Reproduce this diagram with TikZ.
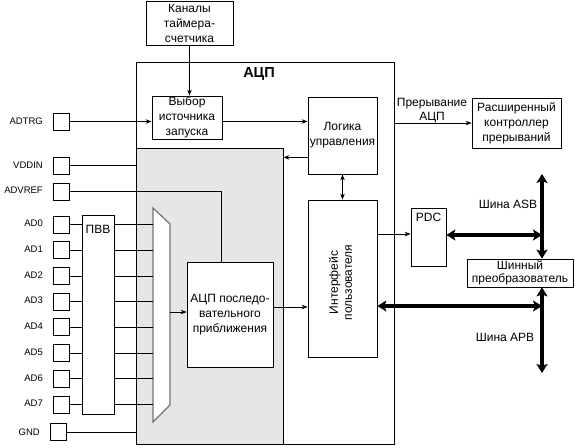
\documentclass[tikz,border=0pt]{standalone}
\usepackage{fontspec}
\setmainfont{Liberation Sans}
\usetikzlibrary{arrows.meta,calc}
\definecolor{panelgray}{RGB}{230,230,230}
\tikzset{
  box/.style={draw,line width=0.75pt,fill=white,inner sep=0pt,align=center,font=\fontsize{12}{15}\selectfont},
  pad/.style={draw,line width=0.75pt,fill=white,minimum width=16pt,minimum height=17pt,inner sep=0pt},
  pin/.style={anchor=east,inner sep=0pt,font=\fontsize{9.5}{10}\selectfont},
  wire/.style={line width=0.75pt},
  arr/.style={line width=0.75pt,-{Stealth[length=6pt,width=4.5pt]}},
  darr/.style={line width=0.75pt,{Stealth[length=6pt,width=4.5pt]}-{Stealth[length=6pt,width=4.5pt]}},
  bus/.style={line width=3.6pt,{Stealth[length=9pt,width=11pt,inset=2pt]}-{Stealth[length=9pt,width=11pt,inset=2pt]}},
  lbl/.style={inner sep=0pt,align=center,font=\fontsize{12}{14}\selectfont}
}
\begin{document}
\begin{tikzpicture}[x=1pt,y=-1pt]
\useasboundingbox (0,0) rectangle (583,447);
% outer ADC block and shaded analog area
\node[draw,line width=0.75pt,minimum width=258pt,minimum height=382pt,inner sep=0pt] (outer) at (265,253) {};
\node[draw,line width=0.75pt,fill=panelgray,minimum width=147pt,minimum height=296pt,inner sep=0pt] (gray) at (209.5,296) {};
\node[inner sep=0pt,font=\fontsize{14.5}{16}\selectfont\bfseries] (title) at (259,74) {АЦП};
% boxes
\node[box,minimum width=87pt,minimum height=44pt] (timer) at (189.5,23) {Каналы\\таймера-\\счетчика};
\node[box,minimum width=70pt,minimum height=43pt] (vybor) at (187,117.5) {Выбор\\источника\\запуска};
\node[box,minimum width=69pt,minimum height=77pt] (logic) at (342.5,135.5) {Логика\\управления};
\node[box,minimum width=69pt,minimum height=157pt] (iface) at (342.5,278.5) {};
\node[lbl,rotate=90] at ([xshift=-2pt,yshift=-4pt]iface.center) {Интерфейс\\пользователя};
\node[box,minimum width=89pt,minimum height=50pt] (eic) at (516.5,123) {Расширенный\\контроллер\\прерываний};
\node[box,minimum width=35pt,minimum height=58pt] (pdc) at (428.5,237) {};
\node[lbl,anchor=north] at ([yshift=-5pt]pdc.north) {PDC};
\node[box,minimum width=106pt,minimum height=28pt,font=\fontsize{12}{12.5}\selectfont] (bridge) at (520,273) {Шинный\\преобразователь};
\node[box,minimum width=32pt,minimum height=199pt] (pvv) at (98,314.5) {};
\node[lbl,anchor=north] at ([yshift=-10pt]pvv.north) {ПВВ};
\node[box,minimum width=86pt,minimum height=105pt] (adc) at (230,314.5) {АЦП последо-\\вательного\\приближения};
% multiplexer
\draw[line width=1.2pt,draw=black!55,fill=white] (153,208) coordinate (muxtl) -- (170,224) coordinate (muxtr) -- (170,405) coordinate (muxbr) -- (153,422) coordinate (muxbl) -- cycle;
% pads and pin labels
\node[pad] (adtrg) at (61,121.5) {};
\node[pin] at (43,121) {ADTRG};
\node[pad] (vddin) at (61,165.5) {};
\node[pin] at (43,165) {VDDIN};
\node[pad] (advref) at (61,191.5) {};
\node[pin] at (43,190) {ADVREF};
\foreach \i in {0,...,7}{
  \node[pad] (ad\i) at (61,{224.5+25.71*\i}) {};
  \node[pin] at (43,{223.5+25.71*\i}) {AD\i};
  \draw[wire] (ad\i.east) -- (ad\i.east -| pvv.west);
  \draw[wire] (ad\i.east -| pvv.east) -- (ad\i.east -| muxtl);
}
\node[pad] (gnd) at (58.5,432) {};
\node[pin] at (40,432) {GND};
% connectors
\draw[arr] (timer.south) -- (timer.south |- vybor.north);
\draw[arr] (adtrg.east) -- (adtrg.east -| vybor.west);
\draw[arr] (vybor.east |- adtrg.east) -- (logic.west |- adtrg.east);
\coordinate (lg) at ($(logic.south west)+(0,-17)$);
\draw[arr] (lg) -- (lg -| gray.east);
\draw[darr] (logic.south) -- (iface.north);
\draw[arr] (outer.east |- eic.west) -- (eic.west);
\node[lbl] at (432,111) {Прерывание\\АЦП};
\draw[wire] (vddin.east) -- (vddin.east -| outer.west);
\draw[wire] (gnd.east) -- (gnd.east -| outer.west);
\coordinate (vr) at (221,191.5);
\draw[wire] (advref.east) -- (vr) -- (vr |- adc.north);
\coordinate (mo) at (170,312);
\draw[arr] (mo) -- (mo -| adc.west);
\coordinate (ao) at ($(adc.east)+(0,-7.5)$);
\draw[arr] (ao) -- (ao -| iface.west);
\coordinate (pi) at ($(pdc.west)+(0,-3)$);
\draw[arr] (pi -| iface.east) -- (pi);
% buses
\coordinate (asbtop) at (542,174);
\coordinate (apbbot) at (542,373);
\draw[bus] (asbtop) -- (asbtop |- bridge.north);
\draw[bus] (apbbot |- bridge.south) -- (apbbot);
\coordinate (pb) at ($(pdc.east)+(0,-2)$);
\draw[bus] (pb) -- (pb -| asbtop);
\coordinate (ib) at (iface.east |- 0,306);
\draw[bus] (ib) -- (ib -| asbtop);
\node[lbl] at (508,204) {Шина ASB};
\node[lbl] at (505,337) {Шина APB};
\end{tikzpicture}
\end{document}
